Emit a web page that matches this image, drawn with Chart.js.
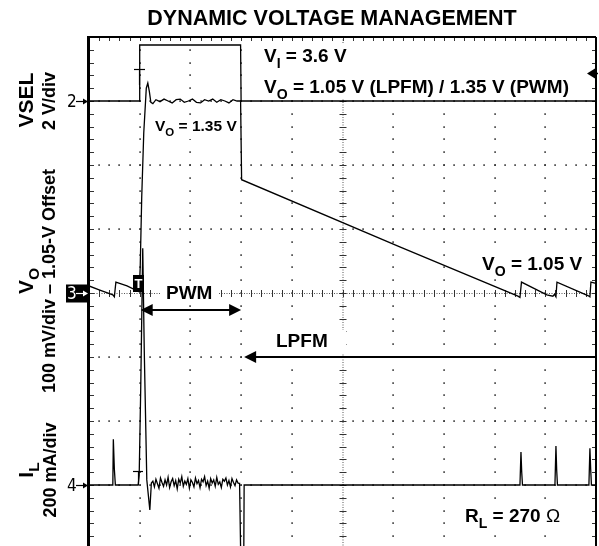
<!DOCTYPE html>
<html lang="en">
<head>
<meta charset="UTF-8">
<title>Dynamic Voltage Management</title>
<script src="https://cdn.jsdelivr.net/npm/chart.js"></script>
<style>
  html, body { margin: 0; padding: 0; background: #fff; overflow: hidden; }
  canvas { display: block; }
</style>
</head>
<body>
<canvas id="scope" width="599" height="560"></canvas>
<script>
// Time is in screen divisions (10 across the graticule)

// VSEL, channel 2, volts
const vselTime  = [0, 0.99, 1.0, 2.99, 3.0, 10];
const vselVolts = [0, 0, 1.75, 1.75, 0, 0];

// VO, channel 3, volts
const voTime = [
  0, 0.2, 0.47, 0.5, 0.53, 0.75, 0.99, 1.01, 1.04, 1.08, 1.13, 1.16, 1.19, 1.22, 1.26,
  1.32, 1.40, 1.48, 1.56, 1.64, 1.72, 1.80, 1.88, 1.96, 2.04, 2.12,
  2.20, 2.28, 2.36, 2.44, 2.52, 2.60, 2.68, 2.76, 2.84, 2.92, 2.99,
  3.01, 6.13, 8.46, 8.50, 8.53, 9.03, 9.15, 9.18, 9.21, 9.23, 9.84, 9.88, 9.90, 10
];
const voVolts = [
  1.061, 1.055, 1.047, 1.044, 1.067, 1.061, 1.052, 1.09, 1.20, 1.30, 1.37, 1.378, 1.365, 1.348, 1.346,
  1.352, 1.349, 1.353, 1.350, 1.347, 1.352, 1.353, 1.348, 1.350, 1.353, 1.348,
  1.347, 1.352, 1.350, 1.353, 1.348, 1.352, 1.350, 1.347, 1.352, 1.350, 1.350,
  1.227, 1.122, 1.045, 1.043, 1.067, 1.047, 1.045, 1.048, 1.044, 1.067, 1.046, 1.044, 1.067, 1.065
];

// IL, channel 4, mA
const ilTime = [
  0, 0.47, 0.48, 0.50, 0.52, 0.97, 0.99, 1.02, 1.06, 1.09, 1.14, 1.20, 1.23,
  1.26, 1.29, 1.32, 1.35, 1.38, 1.41, 1.44, 1.47, 1.50, 1.53, 1.56, 1.59, 1.62, 1.65,
  1.68, 1.71, 1.74, 1.77, 1.80, 1.83, 1.86, 1.89, 1.92, 1.95, 1.98, 2.01, 2.04, 2.07,
  2.10, 2.13, 2.16, 2.19, 2.22, 2.25, 2.28, 2.31, 2.34, 2.37, 2.40, 2.43, 2.46, 2.49,
  2.52, 2.55, 2.58, 2.61, 2.64, 2.67, 2.70, 2.73, 2.76, 2.79, 2.82, 2.85, 2.88, 2.91, 2.94,
  2.97, 3.00, 3.05, 3.06, 8.50, 8.52, 8.535, 8.55, 9.19, 9.21, 9.225, 9.24, 9.86, 9.88, 9.895, 9.91, 10
];
const ilMilliamps = [
  0, 0, 143, 50, 0, 0, 30, 300, 740, 420, 16, -78, 6,
  12, -6, 18, 4, -10, 22, 8, -4, 16, 0, 24, -8, 10, 20,
  -2, 14, -12, 18, 6, 26, -4, 12, 2, 20, -10, 16, 8, -6,
  22, 4, 14, -8, 18, 10, 26, -2, 12, -10, 20, 6, 16, -4,
  24, 2, 10, -8, 18, 12, 22, 0, 14, -6, 20, 8, -2, 16, 6,
  5, -300, -300, 0, 0, 103, 40, 0, 0, 122, 45, 0, 0, 115, 50, 0, 0
];

const FONT = '"Liberation Sans", Arial, Helvetica, sans-serif';
const NARROW = '"Liberation Sans Narrow", "DejaVu Sans Condensed", ' + FONT;

function zip(xs, ys) {
  return xs.map((x, i) => ({ x: x, y: ys[i] }));
}

// draws a run of text pieces, ['V'], ['O', 'sub'], ['Ω', 'light']
function rich(ctx, parts, x, y, size, align) {
  const pieces = parts.map(p => {
    const sub = p[1] === 'sub';
    const s = sub ? size * 0.74 : size;
    const font = (p[1] === 'light' ? '' : 'bold ') + s + 'px ' + FONT;
    ctx.font = font;
    return { text: p[0], font: font, w: ctx.measureText(p[0]).width, dy: sub ? size * 0.3 : 0 };
  });
  const total = pieces.reduce((a, p) => a + p.w, 0);
  let cx = align === 'center' ? x - total / 2 : x;
  ctx.textAlign = 'left';
  ctx.textBaseline = 'alphabetic';
  pieces.forEach(p => {
    ctx.font = p.font;
    ctx.fillText(p.text, cx, y + p.dy);
    cx += p.w;
  });
  return total;
}

// same, turned to read bottom-to-top, centred on (cx, cy)
function richUp(ctx, parts, cx, cy, size) {
  ctx.save();
  ctx.translate(cx, cy);
  ctx.rotate(-Math.PI / 2);
  rich(ctx, parts, 0, size * 0.36, size, 'center');
  ctx.restore();
}

function seg(ctx, x1, y1, x2, y2) {
  ctx.beginPath();
  ctx.moveTo(x1, y1);
  ctx.lineTo(x2, y2);
  ctx.stroke();
}

// filled arrow head, dir = -1 points left, +1 points right
function head(ctx, tipX, y, dir, len, half) {
  ctx.beginPath();
  ctx.moveTo(tipX, y);
  ctx.lineTo(tipX - dir * len, y - half);
  ctx.lineTo(tipX - dir * len, y + half);
  ctx.closePath();
  ctx.fill();
}

function channelMark(ctx, label, y, inverse) {
  ctx.save();
  if (inverse) {
    ctx.fillStyle = '#000';
    ctx.fillRect(66, y - 9, 23, 18);
    ctx.fillStyle = '#fff';
    ctx.strokeStyle = '#fff';
  } else {
    ctx.fillStyle = '#000';
    ctx.strokeStyle = '#000';
  }
  ctx.font = '17px ' + NARROW;
  ctx.textBaseline = 'middle';
  ctx.textAlign = 'left';
  ctx.fillText(label, 67, y + 1);
  ctx.lineWidth = 1.2;
  seg(ctx, 76, y, 84, y);
  head(ctx, 88, y, 1, 5, 3);
  ctx.restore();
}

const scopeScreen = {
  id: 'scopeScreen',
  beforeDatasetsDraw(chart) {
    const ctx = chart.ctx;
    const { left, right, top, bottom } = chart.chartArea;
    const dx = (right - left) / 10, dy = (bottom - top) / 8;
    const cx = left + 5 * dx, cy = top + 4 * dy;
    ctx.save();

    // dotted graticule, a dot at every minor step
    ctx.fillStyle = '#333';
    for (let i = 1; i < 10; i++) {
      if (i === 5) continue;
      const x = Math.round(left + i * dx);
      for (let k = 1; k < 40; k++) ctx.fillRect(x - 0.7, Math.round(top + k * dy / 5) - 0.7, 1.6, 1.6);
    }
    for (let j = 1; j < 8; j++) {
      if (j === 4) continue;
      const y = Math.round(top + j * dy);
      for (let k = 1; k < 50; k++) ctx.fillRect(Math.round(left + k * dx / 5) - 0.7, y - 0.7, 1.6, 1.6);
    }

    // centre cross with minor ticks
    ctx.strokeStyle = '#555';
    ctx.lineWidth = 1;
    ctx.setLineDash([1, 1.5]);
    seg(ctx, cx + 0.5, top, cx + 0.5, bottom);
    seg(ctx, left, cy + 0.5, right, cy + 0.5);
    ctx.setLineDash([]);
    ctx.strokeStyle = '#333';
    for (let k = 1; k < 50; k++) {
      const x = Math.round(left + k * dx / 5) + 0.5;
      seg(ctx, x, cy - 3, x, cy + 4);
      seg(ctx, x, top, x, top + 4);
    }
    for (let k = 1; k < 40; k++) {
      const y = Math.round(top + k * dy / 5) + 0.5;
      seg(ctx, cx - 3, y, cx + 4, y);
      seg(ctx, left, y, left + 5, y);
      seg(ctx, right - 4, y, right, y);
    }

    // white panels behind the labels
    ctx.fillStyle = '#fff';
    ctx.fillRect(252, 43, 334, 56);
    ctx.fillRect(151, 116, 89, 23);
    ctx.fillRect(160, 281, 58, 23);
    ctx.fillRect(268, 330, 78, 23);
    ctx.fillRect(478, 252, 110, 27);
    ctx.fillRect(460, 500, 108, 30);
    ctx.restore();
  },
  afterDatasetsDraw(chart) {
    const ctx = chart.ctx;
    const { left, right, top, bottom } = chart.chartArea;
    const xs = chart.scales.x;
    ctx.save();
    ctx.fillStyle = '#000';
    ctx.strokeStyle = '#000';

    // frame
    ctx.lineWidth = 2;
    seg(ctx, left, top, right, top);
    seg(ctx, right, top, right, bottom);
    ctx.lineWidth = 3;
    seg(ctx, left - 0.5, top - 1, left - 0.5, bottom);

    // trigger marks
    ctx.lineWidth = 1.2;
    seg(ctx, 134, 69.5, 145, 69.5);
    seg(ctx, 139.5, 69.5, 139.5, 85);
    seg(ctx, 133, 471.5, 143, 471.5);
    seg(ctx, 138.5, 471.5, 138.5, 485);
    ctx.fillRect(133, 275, 11, 17);
    ctx.fillStyle = '#fff';
    ctx.font = 'bold 13px ' + FONT;
    ctx.textAlign = 'center';
    ctx.textBaseline = 'middle';
    ctx.fillText('T', 138.5, 284);
    ctx.fillStyle = '#000';

    // trigger level arrow on the right edge
    ctx.lineWidth = 1.5;
    head(ctx, 587, 73.5, -1, 8, 5);
    seg(ctx, 593, 73.5, 598, 73.5);

    // PWM / LPFM spans
    const tStep = xs.getPixelForValue(1.0), tFall = xs.getPixelForValue(3.0);
    ctx.lineWidth = 2;
    seg(ctx, tStep + 8, 310, tFall - 8, 310);
    head(ctx, tStep + 1, 310, -1, 12, 6);
    head(ctx, tFall, 310, 1, 12, 6);
    seg(ctx, tFall + 12, 357, right, 357);
    head(ctx, tFall + 3, 357, -1, 12, 6);

    // annotations
    rich(ctx, [['V'], ['I', 'sub'], [' = 3.6 V']], 264, 62, 19);
    rich(ctx, [['V'], ['O', 'sub'], [' = 1.05 V (LPFM) / 1.35 V (PWM)']], 264, 93, 19);
    rich(ctx, [['V'], ['O', 'sub'], [' = 1.35 V']], 155, 131, 15.5);
    rich(ctx, [['PWM']], 166, 299, 19);
    rich(ctx, [['LPFM']], 276, 347, 19);
    rich(ctx, [['V'], ['O', 'sub'], [' = 1.05 V']], 482, 270, 19);
    rich(ctx, [['R'], ['L', 'sub'], [' = 270 '], ['Ω', 'light']], 465, 522, 19);

    ctx.restore();
  },
  afterDraw(chart) {
    const ctx = chart.ctx;
    ctx.save();
    ctx.fillStyle = '#000';
    rich(ctx, [['DYNAMIC VOLTAGE MANAGEMENT']], 332, 25, 21.5, 'center');

    // channel labels down the left side
    richUp(ctx, [['VSEL']], 25.5, 100, 21);
    richUp(ctx, [['2 V/div']], 48.5, 101, 18);
    richUp(ctx, [['V'], ['O', 'sub']], 25.5, 281, 21);
    richUp(ctx, [['100 mV/div – 1.05-V Offset']], 48.5, 281, 18);
    richUp(ctx, [['I'], ['L', 'sub']], 25.5, 470, 21);
    richUp(ctx, [['200 mA/div']], 49.5, 470, 18);

    channelMark(ctx, '2', 101.5, false);
    channelMark(ctx, '3', 293.5, true);
    channelMark(ctx, '4', 485.5, false);
    ctx.restore();
  }
};

const trace = { borderColor: '#000', borderWidth: 1.3, pointRadius: 0, tension: 0, fill: false };

new Chart(document.getElementById('scope').getContext('2d'), {
  type: 'line',
  data: {
    datasets: [
      Object.assign({ label: 'VSEL', data: zip(vselTime, vselVolts), yAxisID: 'yVsel' }, trace),
      Object.assign({ label: 'VO', data: zip(voTime, voVolts), yAxisID: 'yVo' }, trace),
      Object.assign({ label: 'IL', data: zip(ilTime, ilMilliamps), yAxisID: 'yIl' }, trace)
    ]
  },
  options: {
    responsive: false,
    animation: false,
    layout: { padding: { left: 89, right: 3, top: 37, bottom: 11 } },
    plugins: {
      legend: { display: false },
      tooltip: { enabled: false },
      title: { display: false }
    },
    scales: {
      x: { type: 'linear', min: 0, max: 10, display: false },
      // 2 V/div, zero three divisions above centre
      yVsel: { type: 'linear', min: -14, max: 2, display: false },
      // 100 mV/div around a 1.05 V offset
      yVo: { type: 'linear', min: 0.65, max: 1.45, display: false },
      // 200 mA/div, zero three divisions below centre
      yIl: { type: 'linear', min: -200, max: 1400, display: false }
    }
  },
  plugins: [scopeScreen]
});
</script>
</body>
</html>
